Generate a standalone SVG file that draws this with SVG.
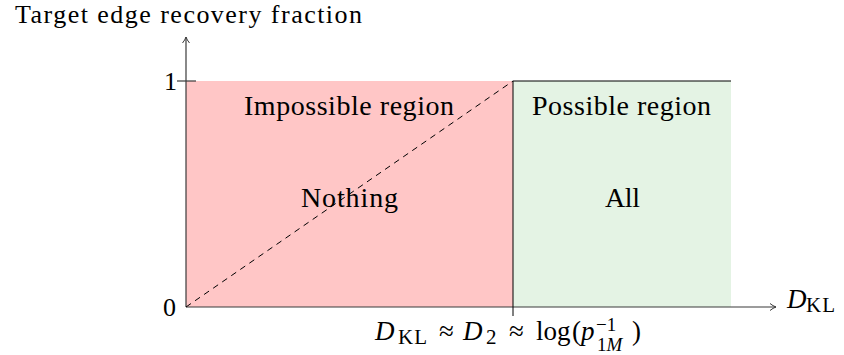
<svg xmlns="http://www.w3.org/2000/svg" width="844" height="355" viewBox="0 0 844 355">
<style>
text{font-family:"Liberation Serif","DejaVu Serif",serif;fill:#000;font-size:28px}
.ax{stroke:#3a3a3a;stroke-width:1.2;fill:none}
.ln{stroke:#000;stroke-width:1;fill:none}
.m{font-size:27px}
.it{font-style:italic}
.sub{font-size:21px}
.sup{font-size:19px}
</style>
<defs>
<marker id="arr" markerWidth="10" markerHeight="10" refX="8" refY="5" orient="auto" markerUnits="userSpaceOnUse">
<path d="M2,1.5 Q5,4 8,5 Q5,6 2,8.5" fill="none" stroke="#3a3a3a" stroke-width="1"/>
</marker>
</defs>
<g id="regions">
<rect id="impossible" x="186" y="81" width="327" height="226" fill="#ffc6c6"/>
<rect id="possible" x="513" y="81" width="218" height="226" fill="#e4f3e4"/>
</g>
<g id="connectors">
<line class="ax" x1="186" y1="307" x2="186" y2="37" marker-end="url(#arr)"/>
<line class="ax" x1="186" y1="307" x2="776" y2="307" marker-end="url(#arr)"/>
<line class="ax" x1="177" y1="81" x2="196" y2="81"/>
<line class="ln" x1="513" y1="81" x2="731" y2="81"/>
<line class="ln" x1="513" y1="81" x2="513" y2="316"/>
<line class="ln" x1="186" y1="307" x2="513" y2="81" stroke-dasharray="6,5"/>
</g>
<g id="labels">
<text x="15" y="23" style="font-size:26px" textLength="347" lengthAdjust="spacing">Target edge recovery fraction</text>
<text x="164" y="90" style="font-size:26px">1</text>
<text x="163" y="316" style="font-size:26px">0</text>
<text x="244" y="115" textLength="210" lengthAdjust="spacing">Impossible region</text>
<text x="532" y="115" textLength="179" lengthAdjust="spacing">Possible region</text>
<text x="301" y="207" textLength="97" lengthAdjust="spacing">Nothing</text>
<text x="605" y="207" textLength="35" lengthAdjust="spacing">All</text>
</g>
<g id="axis-label">
<text class="m it" x="787" y="308">D</text>
<text class="sub" x="806" y="312" letter-spacing="1">KL</text>
</g>
<g id="threshold-label">
<text class="m it" x="375" y="340">D</text>
<text class="sub" x="398" y="344" letter-spacing="1">KL</text>
<text class="m" x="439" y="340">≈</text>
<text class="m it" x="463" y="340">D</text>
<text class="sub" x="486" y="344">2</text>
<text class="m" x="509" y="340">≈</text>
<text class="m" x="536" y="340">log</text>
<text class="m" x="572" y="340">(</text>
<text class="m it" x="581" y="340">p</text>
<text class="sup" x="596" y="331">−1</text>
<text class="sup" x="597" y="351">1<tspan class="it">M</tspan></text>
<text class="m" x="632" y="340">)</text>
</g>
</svg>
